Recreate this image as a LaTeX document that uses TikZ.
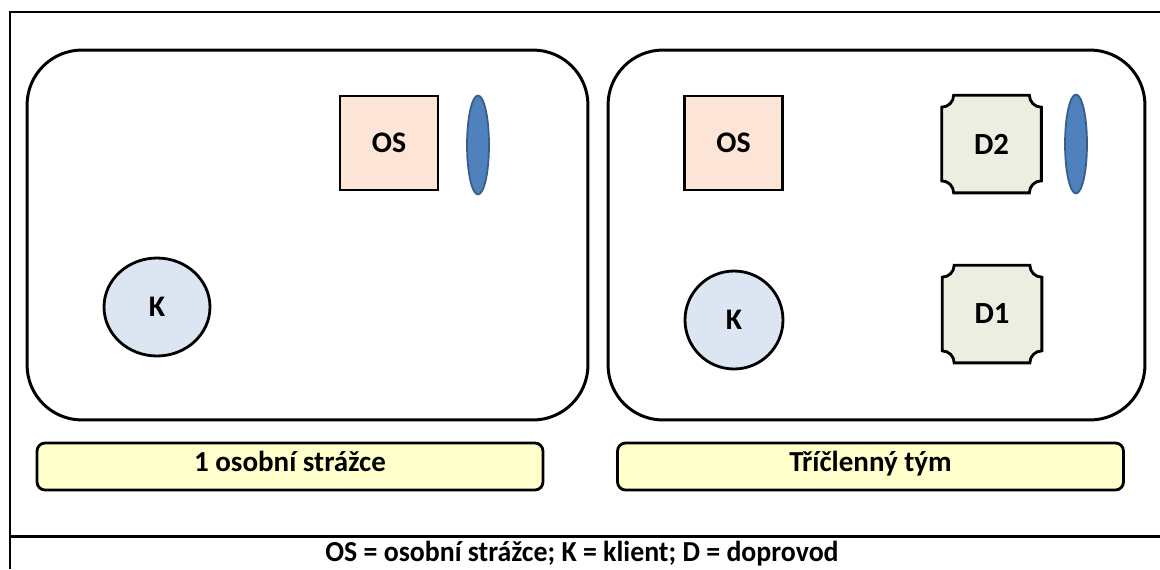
\documentclass[tikz,border=0pt]{standalone}
\usepackage{fontspec}
\setmainfont{Carlito}
\usetikzlibrary{shapes.geometric}
\definecolor{osfill}{RGB}{252,228,214}
\definecolor{kfill}{RGB}{220,230,242}
\definecolor{dfill}{RGB}{235,238,224}
\definecolor{elfill}{RGB}{79,129,189}
\definecolor{eldraw}{RGB}{56,93,138}
\definecolor{labfill}{RGB}{255,255,204}
\tikzset{
  panel/.style={draw, line width=1.7pt, rounded corners=1.1cm, minimum width=#1, minimum height=7.4cm, inner sep=0pt},
  osbox/.style={draw, line width=1.6pt, fill=osfill, minimum width=1.96cm, minimum height=1.88cm, font=\bfseries\fontsize{17}{19}\selectfont},
  kbox/.style={draw, line width=1.6pt, fill=kfill, ellipse, inner sep=0pt, font=\bfseries\fontsize{17}{19}\selectfont},
  dbox/.style={minimum width=1.98cm, minimum height=1.94cm, inner sep=0pt, font=\bfseries\fontsize{17.5}{19}\selectfont},
  lens/.style={ellipse, draw=eldraw, line width=1pt, fill=elfill, minimum width=0.44cm, minimum height=1.98cm, inner sep=0pt},
  labbox/.style={draw, line width=1.6pt, fill=labfill, rounded corners=0.16cm, minimum width=10.12cm, minimum height=0.94cm, text height=0.85em, text depth=0.3em, font=\bfseries\fontsize{16.5}{18}\selectfont},
  frame/.style={line width=1.7pt}
}
\newcommand{\plaque}[1]{%
  \draw[line width=1.6pt, fill=dfill]
    ([xshift=0.24cm]#1.north west) -- ([xshift=-0.24cm]#1.north east)
    arc[start angle=180, end angle=270, radius=0.24cm]
    -- ([yshift=0.24cm]#1.south east)
    arc[start angle=90, end angle=180, radius=0.24cm]
    -- ([xshift=0.24cm]#1.south west)
    arc[start angle=0, end angle=90, radius=0.24cm]
    -- ([yshift=-0.24cm]#1.north west)
    arc[start angle=270, end angle=360, radius=0.24cm] -- cycle;}
\begin{document}
\begin{tikzpicture}[x=0.02cm,y=-0.02cm]
\useasboundingbox (0,0) rectangle (1160,569);
% outer frame
\coordinate (f1) at (10,569);
\coordinate (f2) at (10,12);
\coordinate (f3) at (1160,12);
\coordinate (h1) at (10,536);
\coordinate (h2) at (1160,536);
\draw[frame] (f1) -- (f2) -- (f3);
\draw[frame] (h1) -- (h2);
% panels
\node[panel=11.22cm] (lp) at (307.5,235) {};
\node[panel=10.74cm] (rp) at (876.5,235) {};
% left panel content
\node[osbox] (os1) at (389,143) {OS};
\node[lens] (e1) at (478,145) {};
\node[kbox, minimum width=2.12cm, minimum height=1.96cm] (k1) at (157,307) {K};
% right panel content
\node[osbox] (os2) at (733.5,143) {OS};
\node[kbox, minimum width=1.96cm, minimum height=1.96cm] (k2) at (734,320) {K};
\node[dbox] (d2) at (991.5,144) {};
\plaque{d2}
\node[dbox] at (d2) {D2};
\node[dbox] (d1) at (992,314) {};
\plaque{d1}
\node[dbox] at (d1) {D1};
\node[lens] (e2) at (1076,144) {};
% labels
\node[labbox] (l1) at (290,466.5) {1 osobní strážce};
\node[labbox] (l2) at (870.5,466.5) {Tříčlenný tým};
% legend
\node[anchor=base, inner sep=0pt, font=\bfseries\fontsize{16.5}{18}\selectfont] (leg) at (582,561) {\scalebox{0.96}[1]{OS = osobní strážce; K = klient; D = doprovod}};
\end{tikzpicture}
\end{document}
